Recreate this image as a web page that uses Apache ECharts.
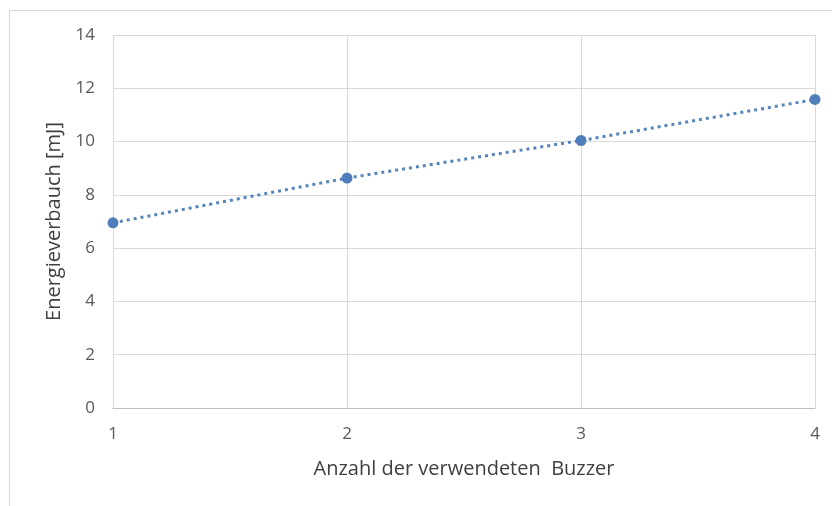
<!DOCTYPE html>
<html>
<head>
<meta charset="utf-8">
<script src="https://cdn.jsdelivr.net/npm/echarts@6/dist/echarts.min.js"></script>
<style>
  html, body { margin: 0; padding: 0; background: #ffffff; }
  #chart { width: 832px; height: 506px; }
</style>
</head>
<body>
<div id="chart"></div>
<script>
// Anzahl der Buzzer und gemessener Energieverbrauch
const buzzerCount = [1, 2, 3, 4];
const energyMilliJoule = [6.95, 8.63, 10.04, 11.58];
const yTicks = [0, 2, 4, 6, 8, 10, 12, 14];

const chart = echarts.init(document.getElementById('chart'), null, { renderer: 'canvas' });

const points = buzzerCount.map((n, i) => [n, energyMilliJoule[i]]);

chart.setOption({
  animation: false,
  backgroundColor: '#ffffff',
  textStyle: { fontFamily: '"Open Sans", "DejaVu Sans", sans-serif' },
  graphic: [{
    type: 'rect',
    shape: { x: 9.5, y: 10.5, width: 840, height: 520 },
    style: { fill: 'none', stroke: '#d9d9d9', lineWidth: 1 },
    silent: true
  }],
  grid: { left: 113, right: 17, top: 35, bottom: 98, containLabel: false },
  xAxis: {
    type: 'value',
    min: 1,
    max: 4,
    interval: 1,
    name: 'Anzahl der verwendeten  Buzzer',
    nameLocation: 'middle',
    nameGap: 51,
    nameTextStyle: { color: '#404040', fontSize: 20 },
    axisLine: { show: true, lineStyle: { color: '#bfbfbf', width: 1 } },
    axisTick: { show: false },
    axisLabel: { color: '#595959', fontSize: 17, margin: 18 },
    splitLine: { show: true, lineStyle: { color: '#d9d9d9', width: 1 } }
  },
  yAxis: {
    type: 'value',
    min: yTicks[0],
    max: yTicks[yTicks.length - 1],
    interval: 2,
    name: 'Energieverbauch [mJ]',
    nameLocation: 'middle',
    nameGap: 47,
    nameTextStyle: { color: '#404040', fontSize: 20 },
    axisLine: { show: false },
    axisTick: { show: false },
    axisLabel: { color: '#595959', fontSize: 17, margin: 18 },
    splitLine: { show: true, lineStyle: { color: '#d9d9d9', width: 1 } }
  },
  series: [{
    type: 'line',
    data: points,
    symbol: 'circle',
    symbolSize: 11,
    itemStyle: { color: '#4f7fba' },
    lineStyle: { color: '#5585bd', width: 3, type: [3, 4] }
  }]
});
</script>
</body>
</html>
